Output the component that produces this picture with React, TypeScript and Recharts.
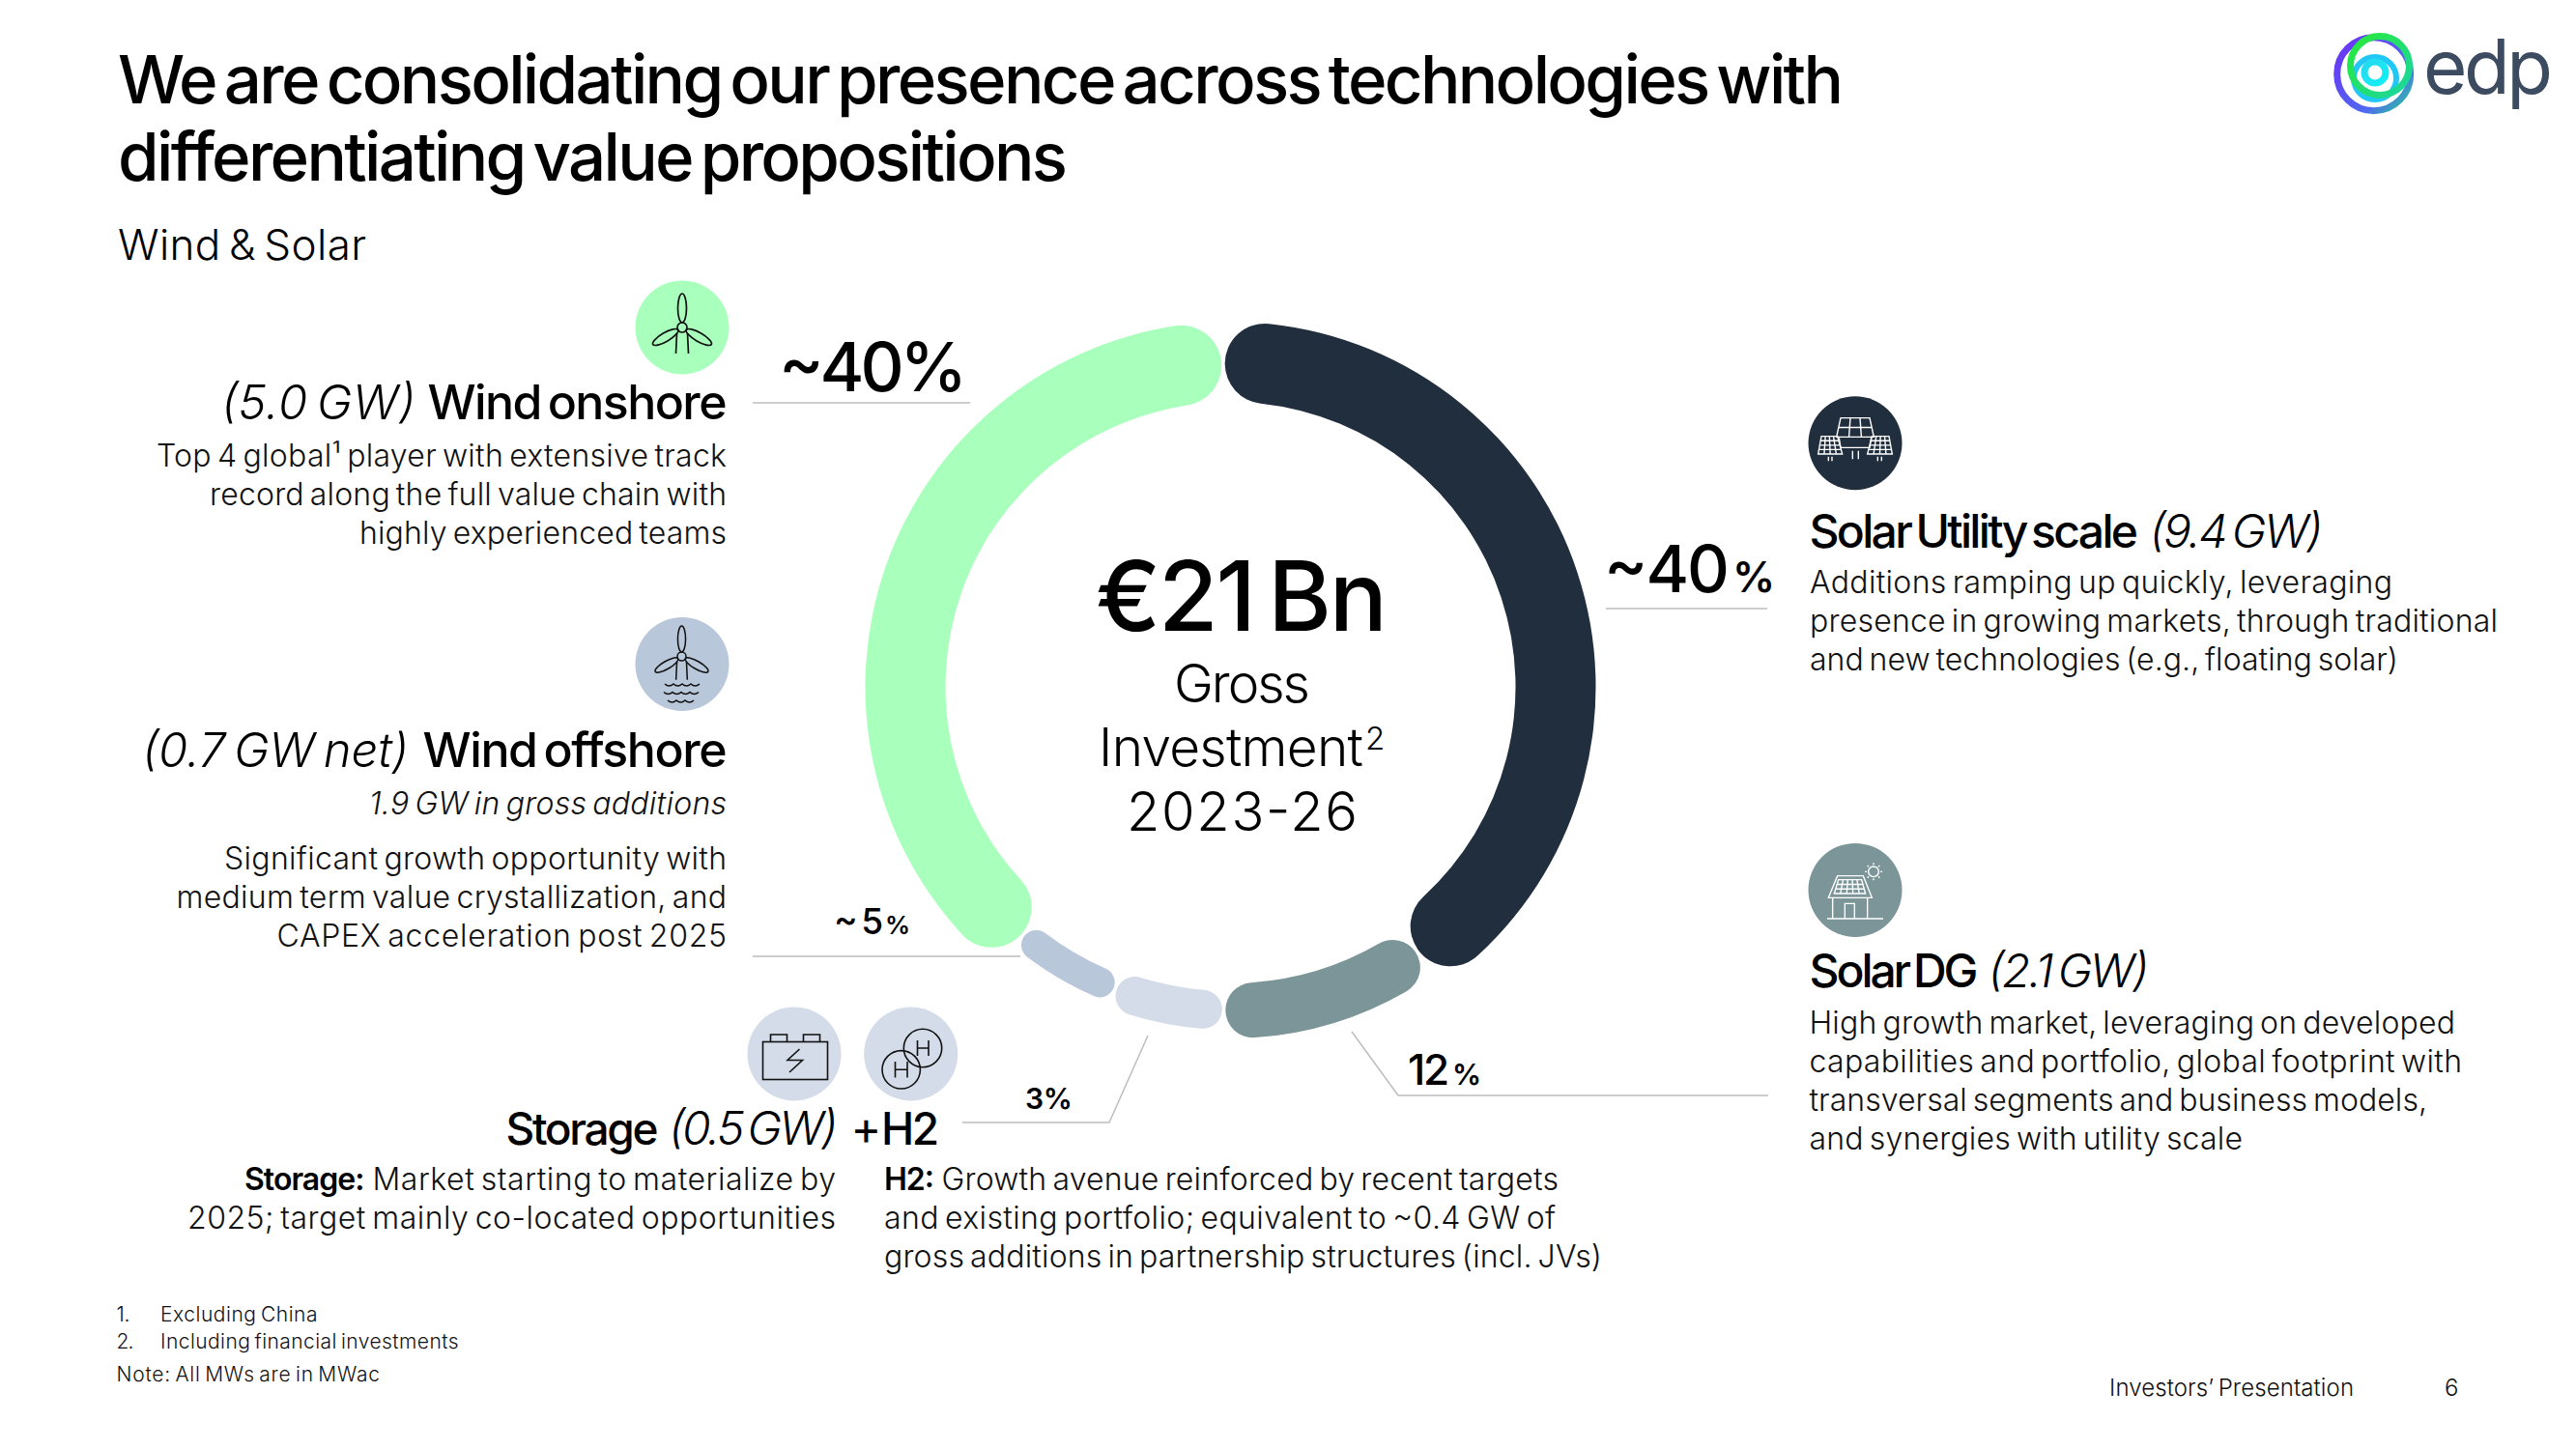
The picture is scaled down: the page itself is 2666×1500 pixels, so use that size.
import { PieChart, Pie, Cell } from "recharts";
import type { ReactNode } from "react";

const segmentNames = ["Solar Utility scale", "Solar DG", "Storage + H2", "Wind offshore", "Wind onshore"];
// share of the ring each arc covers
const arcShares = [40.42, 9.94, 5.31, 5.11, 38.39];
const segmentColors = ["#212E3E", "#7C9599", "#D3DCE8", "#B9C7DA", "#A9FFBC"];

const ringData = segmentNames.map((name, i) => ({ name, value: arcShares[i] }));

// the ring is one set of angles, but each band has its own thickness
const bands = [
  { inner: 295, outer: 378, members: [0, 4] },
  { inner: 307, outer: 364, members: [1] },
  { inner: 315, outer: 355, members: [2] },
  { inner: 319, outer: 350, members: [3] },
];

const FONT = "Inter, 'Noto Sans', sans-serif";
const INK = "#000";
const BODY = "#111";
const RULE = "#BDBDBD";

interface TProps {
  x: number;
  y: number;
  w: number;
  size: number;
  weight?: number;
  italic?: boolean;
  fill?: string;
  children: ReactNode;
}

const T = ({ x, y, w, size, weight = 400, italic, fill = INK, children }: TProps) => (
  <text
    x={x}
    y={y}
    fontFamily={FONT}
    fontSize={size}
    fontWeight={weight}
    fontStyle={italic ? "italic" : "normal"}
    fill={fill}
    textLength={w}
    lengthAdjust="spacing"
    style={{ wordSpacing: "-0.1em" }}
  >
    {children}
  </text>
);

const Turbine = ({ x, y, s = 1 }: { x: number; y: number; s?: number }) => (
  <g transform={`translate(${x} ${y}) scale(${s})`} fill="none" stroke="#111" strokeWidth={1.7}>
    <circle r={5} />
    <ellipse cy={-20} rx={4.5} ry={15} />
    <ellipse cy={-20} rx={4.5} ry={15} transform="rotate(120)" />
    <ellipse cy={-20} rx={4.5} ry={15} transform="rotate(240)" />
    <path d="M-5.5 6 L-6.5 27 M5.5 6 L6.5 27" />
  </g>
);

const Wave = ({ x, y, n }: { x: number; y: number; n: number }) => (
  <path
    d={`M${x} ${y} ` + Array.from({ length: n }, () => "q4.5 4 9 0").join(" ")}
    fill="none"
    stroke="#111"
    strokeWidth={1.5}
  />
);

const lerp = (a: number, b: number, t: number) => a + (b - a) * t;

// quadrilateral panel with an evenly ruled grid
const Panel = ({ q, rows, cols }: { q: number[]; rows: number; cols: number }) => {
  const [x1, x2, x3, x4, y1, y2] = q;
  const lines: string[] = [`M${x1} ${y1}L${x2} ${y1}L${x3} ${y2}L${x4} ${y2}Z`];
  for (let r = 1; r < rows; r++) {
    const t = r / rows;
    lines.push(`M${lerp(x1, x4, t)} ${lerp(y1, y2, t)}L${lerp(x2, x3, t)} ${lerp(y1, y2, t)}`);
  }
  for (let c = 1; c < cols; c++) {
    const t = c / cols;
    lines.push(`M${lerp(x1, x2, t)} ${y1}L${lerp(x4, x3, t)} ${y2}`);
  }
  return <path d={lines.join("")} fill="none" stroke="#fff" strokeWidth={4.2} />;
};

const Overlay = () => (
  <svg
    width={2666}
    height={1500}
    style={{ position: "absolute", left: 0, top: 0 }}
  >
    <defs>
      <linearGradient id="logoOuter" x1="0" y1="0" x2="1" y2="1">
        <stop offset="0%" stopColor="#6D2FF5" />
        <stop offset="70%" stopColor="#4F6BF0" />
        <stop offset="100%" stopColor="#22D48E" />
      </linearGradient>
      <linearGradient id="logoGreen" x1="0" y1="0" x2="1" y2="1">
        <stop offset="0%" stopColor="#28E93A" />
        <stop offset="100%" stopColor="#1BD6A0" />
      </linearGradient>
      <linearGradient id="logoCyan" x1="0" y1="0" x2="1" y2="1">
        <stop offset="0%" stopColor="#28D8F0" />
        <stop offset="100%" stopColor="#10F0F5" />
      </linearGradient>
    </defs>

    {/* header */}
    <T x={122} y={106.5} w={1786} size={69} weight={500}>We are consolidating our presence across technologies with</T>
    <T x={122} y={186.5} w={983} size={69} weight={500}>differentiating value propositions</T>
    <T x={122} y={269} w={257} size={44} weight={300}>Wind &amp; Solar</T>

    {/* logo */}
    <circle cx={2456.7} cy={76.7} r={38} fill="none" stroke="url(#logoOuter)" strokeWidth={7} />
    <circle cx={2458} cy={81} r={22} fill="none" stroke="#22C8F5" strokeWidth={6} />
    <circle cx={2463} cy={68} r={30.5} fill="none" stroke="url(#logoGreen)" strokeWidth={7} />
    <circle cx={2458} cy={75} r={11} fill="none" stroke="url(#logoCyan)" strokeWidth={7} />
    <T x={2508} y={97} w={134} size={78} weight={400} fill="#3C4B5F">edp</T>

    {/* centre */}
    <T x={1134} y={653} w={302} size={100} weight={500}>€21 Bn</T>
    <T x={1215} y={727} w={141} size={55} weight={300}>Gross</T>
    <T x={1137} y={793} w={274} size={55} weight={300}>Investment</T>
    <T x={1413} y={776} w={21} size={33} weight={300}>2</T>
    <T x={1166} y={860} w={239} size={56} weight={300}>2023-26</T>

    {/* leader rules */}
    <g fill="none" stroke={RULE} strokeWidth={1.5}>
      <path d="M779 417H1004" />
      <path d="M1662 630H1829" />
      <path d="M779 990H1056" />
      <path d="M1188 1072L1148 1162H996" />
      <path d="M1399 1068L1447 1134H1830" />
    </g>

    {/* share labels */}
    <T x={806} y={405} w={195} size={70} weight={500}>~40%</T>
    <T x={1660} y={613} w={130} size={68} weight={500}>~40</T>
    <T x={1793} y={613} w={39} size={44} weight={600}>%</T>
    <T x={863} y={967} w={51} size={37} weight={500}>~5</T>
    <T x={916} y={967} w={27} size={26} weight={600}>%</T>
    <T x={1061} y={1148} w={49} size={30} weight={600}>3%</T>
    <T x={1457} y={1123} w={43} size={44} weight={500}>12</T>
    <T x={1503} y={1123} w={29} size={30} weight={600}>%</T>

    {/* wind onshore */}
    <circle cx={706} cy={339} r={48.5} fill="#A9FFBC" />
    <Turbine x={706} y={339} />
    <T x={229} y={434} w={201} size={49} weight={300} italic>(5.0 GW)</T>
    <T x={442.5} y={434} w={310} size={50} weight={500}>Wind onshore</T>
    <T x={162} y={483} w={590} size={32} weight={300} fill={BODY}>Top 4 global¹ player with extensive track</T>
    <T x={217} y={523} w={535} size={32} weight={300} fill={BODY}>record along the full value chain with</T>
    <T x={372} y={562.5} w={380} size={32} weight={300} fill={BODY}>highly experienced teams</T>

    {/* wind offshore */}
    <circle cx={706} cy={687.5} r={48.5} fill="#B9C7DA" />
    <Turbine x={705.5} y={679.5} s={0.9} />
    <Wave x={688} y={708} n={4} />
    <Wave x={687} y={716.5} n={4} />
    <Wave x={691} y={725} n={3} />
    <T x={147} y={794} w={276} size={49} weight={300} italic>(0.7 GW net)</T>
    <T x={437.5} y={794} w={315} size={50} weight={500}>Wind offshore</T>
    <T x={382} y={842.5} w={370} size={32} weight={300} italic fill={BODY}>1.9 GW in gross additions</T>
    <T x={232} y={900} w={520} size={32} weight={300} fill={BODY}>Significant growth opportunity with</T>
    <T x={182.5} y={939.5} w={569.5} size={32} weight={300} fill={BODY}>medium term value crystallization, and</T>
    <T x={286.5} y={980} w={465.5} size={32} weight={300} fill={BODY}>CAPEX acceleration post 2025</T>

    {/* storage + h2 */}
    <circle cx={822} cy={1091} r={48.5} fill="#D3DCE8" />
    <g fill="none" stroke="#111" strokeWidth={1.6}>
      <rect x={789.5} y={1078.5} width={67} height={39} />
      <path d="M797.5 1078.5V1071H814.5V1078.5M831.5 1078.5V1071H848.5V1078.5" />
      <path d="M827.5 1086L815 1097.5H830.5L817 1110" />
    </g>
    <circle cx={942.7} cy={1091} r={48.5} fill="#D3DCE8" />
    <g fill="none" stroke="#111" strokeWidth={1.6}>
      <circle cx={932.7} cy={1107.3} r={19.7} />
      <circle cx={955} cy={1085} r={19.7} />
      <path d="M926.5 1099V1115.5M939 1099V1115.5M926.5 1107.3H939" />
      <path d="M949.5 1077V1093M961 1077V1093M949.5 1085H961" />
    </g>
    <T x={523.5} y={1184.5} w={158} size={46} weight={500}>Storage</T>
    <T x={692} y={1184.5} w={175} size={48} weight={300} italic>(0.5 GW)</T>
    <T x={880.5} y={1184.5} w={26} size={48} weight={400}>+</T>
    <T x={912} y={1184.5} w={60} size={46} weight={500}>H2</T>
    <T x={253} y={1232} w={124.5} size={32} weight={600}>Storage:</T>
    <T x={385.5} y={1232} w={479.5} size={32} weight={300} fill={BODY}>Market starting to materialize by</T>
    <T x={194} y={1272} w={671} size={32} weight={300} fill={BODY}>2025; target mainly co-located opportunities</T>
    <T x={915} y={1232} w={52} size={32} weight={600}>H2:</T>
    <T x={974.5} y={1232} w={638.5} size={32} weight={300} fill={BODY}>Growth avenue reinforced by recent targets</T>
    <T x={915} y={1272} w={695} size={32} weight={300} fill={BODY}>and existing portfolio; equivalent to ~0.4 GW of</T>
    <T x={915} y={1312} w={743} size={32} weight={300} fill={BODY}>gross additions in partnership structures (incl. JVs)</T>

    {/* solar utility */}
    <circle cx={1920} cy={458.7} r={48.5} fill="#212E3E" />
    <g transform="translate(1860 400) scale(0.3333)">
      <Panel q={[135, 225, 238, 122, 98, 157]} rows={2} cols={3} />
      <Panel q={[75, 125, 140, 65, 155, 210]} rows={4} cols={4} />
      <Panel q={[232, 285, 295, 218, 155, 210]} rows={4} cols={4} />
      <path d="M130 160L135 190H225L230 160M97 218V232M108 218V232M172 200V226M190 200V226M250 218V232M262 218V232" fill="none" stroke="#fff" strokeWidth={4.2} />
    </g>
    <T x={1872.5} y={567} w={340.5} size={48} weight={500}>Solar Utility scale</T>
    <T x={2224.5} y={567} w={179.5} size={48} weight={300} italic>(9.4 GW)</T>
    <T x={1873} y={614} w={603} size={32} weight={300} fill={BODY}>Additions ramping up quickly, leveraging</T>
    <T x={1873} y={654} w={712} size={32} weight={300} fill={BODY}>presence in growing markets, through traditional</T>
    <T x={1873} y={694} w={609} size={32} weight={300} fill={BODY}>and new technologies (e.g., floating solar)</T>

    {/* solar dg */}
    <circle cx={1920} cy={921.4} r={48.5} fill="#7C9599" />
    <g transform="translate(1860 860) scale(0.3333)">
      <Panel q={[128, 200, 212, 115, 152, 195]} rows={3} cols={5} />
      <path d="M125 140H205L232 208H97ZM110 208V272M218 208V272M148 272V226H178V272M93 273H267" fill="none" stroke="#fff" strokeWidth={4.2} />
      <circle cx={237} cy={127} r={16} fill="none" stroke="#fff" strokeWidth={4.2} />
      <path d="M237 100V106M237 148V154M210 127H216M258 127H264M218 108L222 112M252 142L256 146M256 108L252 112M222 142L218 146" fill="none" stroke="#fff" strokeWidth={4.2} />
    </g>
    <T x={1872.5} y={1022} w={175} size={48} weight={500}>Solar DG</T>
    <T x={2057.5} y={1022} w={166.5} size={48} weight={300} italic>(2.1 GW)</T>
    <T x={1872.5} y={1070} w={668.5} size={32} weight={300} fill={BODY}>High growth market, leveraging on developed</T>
    <T x={1872.5} y={1110} w={675.5} size={32} weight={300} fill={BODY}>capabilities and portfolio, global footprint with</T>
    <T x={1872.5} y={1150} w={639.5} size={32} weight={300} fill={BODY}>transversal segments and business models,</T>
    <T x={1872.5} y={1190} w={448.5} size={32} weight={300} fill={BODY}>and synergies with utility scale</T>

    {/* footnotes */}
    <T x={120.5} y={1368} w={14} size={21} weight={300} fill={BODY}>1.</T>
    <T x={166} y={1368} w={162.5} size={21} weight={300} fill={BODY}>Excluding China</T>
    <T x={120.5} y={1396} w={18} size={21} weight={300} fill={BODY}>2.</T>
    <T x={166} y={1396} w={308.5} size={21} weight={300} fill={BODY}>Including financial investments</T>
    <T x={120.5} y={1430} w={272.5} size={21} weight={300} fill={BODY}>Note: All MWs are in MWac</T>
    <T x={2183} y={1445} w={253} size={24} weight={300} fill={BODY}>Investors’ Presentation</T>
    <T x={2530} y={1445} w={15} size={24} weight={300} fill={BODY}>6</T>
  </svg>
);

export default function App() {
  return (
    <div
      style={{
        position: "absolute",
        left: 0,
        top: 0,
        width: 2666,
        height: 1500,
        overflow: "hidden",
        background: "#fff",
      }}
    >
      <PieChart width={2666} height={1500} margin={{ top: 0, right: 0, bottom: 0, left: 0 }}>
        {bands.map((band, b) => (
          <Pie
            key={b}
            data={ringData}
            dataKey="value"
            nameKey="name"
            cx={1273.5}
            cy={711}
            innerRadius={band.inner}
            outerRadius={band.outer}
            cornerRadius={(band.outer - band.inner) / 2}
            startAngle={91}
            endAngle={-269}
            paddingAngle={0.6}
            stroke="none"
            isAnimationActive={false}
          >
            {ringData.map((entry, i) => (
              <Cell key={entry.name} fill={band.members.includes(i) ? segmentColors[i] : "transparent"} />
            ))}
          </Pie>
        ))}
      </PieChart>
      <Overlay />
    </div>
  );
}
